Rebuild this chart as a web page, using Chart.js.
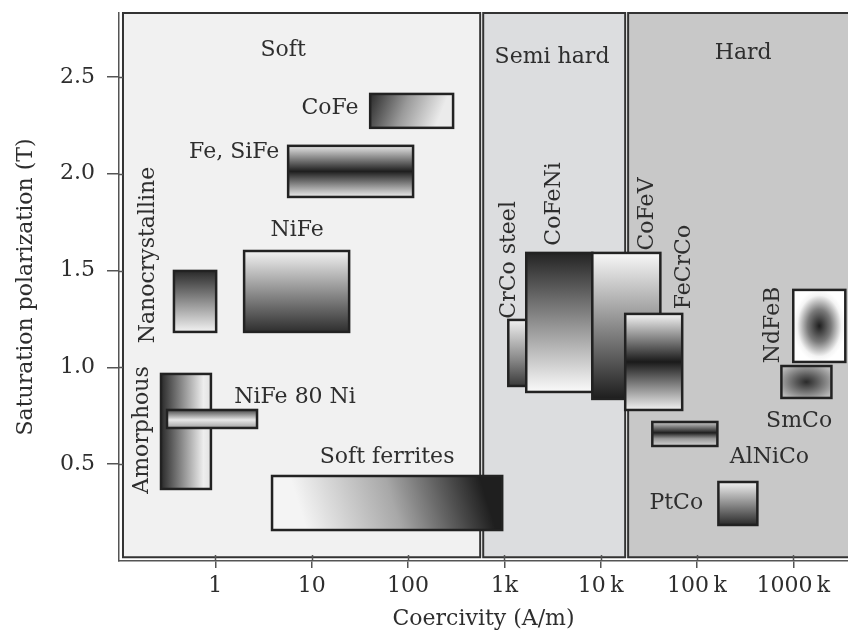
<!DOCTYPE html>
<html>
<head>
<meta charset="utf-8">
<script src="https://cdn.jsdelivr.net/npm/chart.js@4.4.1/dist/chart.umd.min.js"></script>
<style>
  html, body { margin: 0; padding: 0; background: #fff; overflow: hidden; }
  #wrap { width: 848px; height: 635px; position: relative; }
</style>
</head>
<body>
<div id="wrap"><canvas id="chart"></canvas></div>
<script>
/* ---- Data: coercivity (A/m) and saturation polarization (T) ranges ---- */
const materials = [
  "Amorphous", "NiFe 80 Ni", "Nanocrystalline", "NiFe", "Fe, SiFe", "CoFe",
  "Soft ferrites", "CrCo steel", "CoFeNi", "CoFeV", "FeCrCo", "AlNiCo",
  "PtCo", "NdFeB", "SmCo",
];
const hcLow  = [0.273, 0.315, 0.372, 1.99, 5.7, 40.5, 3.88, 1100, 1690, 8200, 18000, 34400, 167000, 1.0e6, 753000];
const hcHigh = [0.90, 2.71, 1.02, 24.5, 113, 294, 951, 1690, 8200, 41700, 70300, 163000, 424000, 3.47e6, 2.49e6];
const jsLow  = [0.372, 0.687, 1.183, 1.183, 1.88, 2.237, 0.16, 0.904, 0.873, 0.837, 0.78, 0.594, 0.186, 1.028, 0.842];
const jsHigh = [0.966, 0.78, 1.498, 1.601, 2.144, 2.412, 0.439, 1.245, 1.591, 1.591, 1.276, 0.718, 0.408, 1.40, 1.007];

const regionNames = ["Soft", "Semi hard", "Hard"];
const regionFrom  = [0.11, 604, 19300];
const regionTo    = [562, 17990, 3.7e6];

const xTickValues = [1, 10, 100, 1e3, 1e4, 1e5, 1e6];
const xTickLabels = ["1", "10", "100", "1k", "10\u2009k", "100\u2009k", "1000\u2009k"];
const yTickValues = [0.5, 1.0, 1.5, 2.0, 2.5];

/* ---- Styles ---- */
const FONT = "DejaVu Serif";
const TEXT = "#2e2e2e";
const X_MIN = 0.1, X_MAX = 3.7e6, Y_MIN = 0, Y_MAX = 2.83, REGION_BOTTOM = 0.02;
const regionFill = ["#f1f1f1", "#dcdddf", "#c8c8c8"];

// gradient specs, box-relative
const shades = {
  "Amorphous":      { lin: [0, 0, 1, 0], stops: [[0, "#2a2a2a"], [0.85, "#eeeeee"], [1, "#e2e2e2"]] },
  "NiFe 80 Ni":     { lin: [0, 0, 0, 1], stops: [[0, "#4a4a4a"], [0.55, "#e8e8e8"], [1, "#a0a0a0"]] },
  "Nanocrystalline":{ lin: [0, 0, 0, 1], stops: [[0, "#2a2a2a"], [1, "#f2f2f2"]] },
  "NiFe":           { lin: [0, 0, 0, 1], stops: [[0, "#f2f2f2"], [1, "#2e2e2e"]] },
  "Fe, SiFe":       { lin: [0, 0, 0, 1], stops: [[0, "#e6e6e6"], [0.5, "#1e1e1e"], [1, "#ececec"]] },
  "CoFe":           { lin: [0, 0.1, 0.8, 0.9], stops: [[0, "#2e2e2e"], [0.5, "#9a9a9a"], [1, "#ebebeb"]] },
  "Soft ferrites":  { lin: [0.15, 1, 0.9, 0], stops: [[0, "#f4f4f4"], [0.5, "#a8a8a8"], [1, "#1f1f1f"]] },
  "CrCo steel":     { lin: [0, 0, 0, 1], stops: [[0, "#f0f0f0"], [0.6, "#888"], [1, "#3a3a3a"]] },
  "CoFeNi":         { lin: [0, 0, 0, 1], stops: [[0, "#242424"], [1, "#fafafa"]] },
  "CoFeV":          { lin: [0, 0, 0, 1], stops: [[0, "#f8f8f8"], [1, "#1e1e1e"]] },
  "FeCrCo":         { lin: [0, 0, 0, 1], stops: [[0, "#f4f4f4"], [0.5, "#1a1a1a"], [1, "#f2f2f2"]] },
  "AlNiCo":         { lin: [0, 0, 0, 1], stops: [[0, "#cfcfcf"], [0.45, "#1e1e1e"], [0.7, "#999"], [1, "#d5d5d5"]] },
  "PtCo":           { lin: [0, 0, 0, 1], stops: [[0, "#f2f2f2"], [1, "#2a2a2a"]] },
  "NdFeB":          { rad: 1.0, stops: [[0, "#1e1e1e"], [0.45, "#7a7a7a"], [0.85, "#f4f4f4"], [1, "#ffffff"]] },
  "SmCo":           { rad: 1.2, stops: [[0, "#2a2a2a"], [0.35, "#5a5a5a"], [1, "#b8b8b8"]] },
};

// text annotations: [text, x value, y value, rotated]
const notes = [
  ["Soft", 5.05, 2.64, false],
  ["Semi hard", 3130, 2.60, false],
  ["Hard", 302000, 2.62, false],
  ["CoFe", 15.5, 2.34, false],
  ["Fe, SiFe", 1.57, 2.11, false],
  ["NiFe", 7.06, 1.71, false],
  ["Nanocrystalline", 0.2, 1.58, true],
  ["Amorphous", 0.174, 0.677, true],
  ["NiFe 80 Ni", 6.73, 0.847, false],
  ["Soft ferrites", 60.7, 0.537, false],
  ["CrCo steel", 1125, 1.555, true],
  ["CoFeNi", 3300, 1.844, true],
  ["CoFeV", 30500, 1.792, true],
  ["FeCrCo", 74000, 1.518, true],
  ["NdFeB", 621000, 1.219, true],
  ["SmCo", 1.15e6, 0.723, false],
  ["AlNiCo", 565000, 0.537, false],
  ["PtCo", 61000, 0.30, false],
];

function makeShade(ctx, spec, x0, y0, w, h) {
  const l = spec.lin;
  const g = ctx.createLinearGradient(x0 + l[0] * w, y0 + l[1] * h, x0 + l[2] * w, y0 + l[3] * h);
  spec.stops.forEach(([o, c]) => g.addColorStop(o, c));
  return g;
}

function fillRadial(ctx, spec, x0, y0, w, h) {
  ctx.save();
  ctx.beginPath();
  ctx.rect(x0, y0, w, h);
  ctx.clip();
  ctx.translate(x0 + w / 2, y0 + h / 2);
  ctx.scale(w / 2, h / 2);
  const g = ctx.createRadialGradient(0, 0, 0, 0, 0, spec.rad);
  spec.stops.forEach(([o, c]) => g.addColorStop(o, c));
  ctx.fillStyle = g;
  ctx.fillRect(-1, -1, 2, 2);
  ctx.restore();
}

/* ---- Plugin: regions, material boxes, labels ---- */
const boxPlugin = {
  id: "boxes",
  beforeDatasetsDraw(chart) {
    const { ctx, scales: { x, y } } = chart;
    ctx.save();
    ctx.strokeStyle = "#333";
    ctx.lineWidth = 2;

    regionNames.forEach((name, i) => {
      const x0 = x.getPixelForValue(regionFrom[i]);
      const x1 = x.getPixelForValue(regionTo[i]);
      const y0 = y.getPixelForValue(Y_MAX);
      const y1 = y.getPixelForValue(REGION_BOTTOM);
      ctx.fillStyle = regionFill[i];
      ctx.fillRect(x0, y0, x1 - x0, y1 - y0);
      ctx.beginPath();
      if (i === regionNames.length - 1) {
        ctx.moveTo(x1 + 2, y0);
        ctx.lineTo(x0, y0);
        ctx.lineTo(x0, y1);
        ctx.lineTo(x1 + 2, y1);
      } else {
        ctx.rect(x0, y0, x1 - x0, y1 - y0);
      }
      ctx.stroke();
    });

    ctx.lineWidth = 2.5;
    ctx.strokeStyle = "#222";
    materials.forEach((name, i) => {
      const x0 = x.getPixelForValue(hcLow[i]);
      const x1 = x.getPixelForValue(hcHigh[i]);
      const y0 = y.getPixelForValue(jsHigh[i]);
      const y1 = y.getPixelForValue(jsLow[i]);
      const spec = shades[name];
      if (spec.rad) {
        fillRadial(ctx, spec, x0, y0, x1 - x0, y1 - y0);
      } else {
        ctx.fillStyle = makeShade(ctx, spec, x0, y0, x1 - x0, y1 - y0);
        ctx.fillRect(x0, y0, x1 - x0, y1 - y0);
      }
      ctx.strokeRect(x0, y0, x1 - x0, y1 - y0);
    });

    ctx.fillStyle = TEXT;
    ctx.font = "22px '" + FONT + "'";
    ctx.textAlign = "center";
    ctx.textBaseline = "middle";
    notes.forEach(([text, vx, vy, rot]) => {
      const px = x.getPixelForValue(vx);
      const py = y.getPixelForValue(vy);
      ctx.save();
      ctx.translate(px, py);
      if (rot) ctx.rotate(-Math.PI / 2);
      ctx.fillText(text, 0, 0);
      ctx.restore();
    });
    ctx.restore();
  },
  afterDraw(chart) {
    // short inner part of the tick marks
    const { ctx, chartArea, scales: { x, y } } = chart;
    ctx.save();
    ctx.strokeStyle = "#555";
    ctx.lineWidth = 1.5;
    ctx.beginPath();
    xTickValues.forEach((v) => {
      const px = Math.round(x.getPixelForValue(v)) + 0.5;
      ctx.moveTo(px, chartArea.bottom);
      ctx.lineTo(px, chartArea.bottom - 6);
    });
    yTickValues.forEach((v) => {
      const py = Math.round(y.getPixelForValue(v)) + 0.5;
      ctx.moveTo(chartArea.left, py);
      ctx.lineTo(chartArea.left + 4, py);
    });
    ctx.stroke();
    ctx.restore();
  },
};

const tickFont = { family: FONT, size: 22 };

new Chart(document.getElementById("chart"), {
  type: "scatter",
  data: { datasets: [{ data: [], pointRadius: 0 }] },
  options: {
    responsive: true,
    maintainAspectRatio: false,
    animation: false,
    events: [],
    layout: { padding: 0 },
    plugins: { legend: { display: false }, tooltip: { enabled: false } },
    scales: {
      x: {
        type: "logarithmic",
        min: X_MIN,
        max: X_MAX,
        afterBuildTicks: (s) => { s.ticks = xTickValues.map((v) => ({ value: v })); },
        afterFit: (s) => { s.height = 74; s.paddingLeft = 0; s.paddingRight = 0; },
        ticks: {
          callback: (v, i) => xTickLabels[i],
          font: tickFont, color: TEXT, padding: 5,
          maxRotation: 0, autoSkip: false,
        },
        grid: { drawOnChartArea: false, tickLength: 7, color: "#555", lineWidth: 1.5 },
        border: { color: "#555", width: 1.5 },
        title: {
          display: true, text: "Coercivity (A/m)",
          font: tickFont, color: TEXT, padding: { top: 0, bottom: 3 },
        },
      },
      y: {
        type: "linear",
        min: Y_MIN,
        max: Y_MAX,
        afterBuildTicks: (s) => { s.ticks = yTickValues.map((v) => ({ value: v })); },
        afterFit: (s) => { s.width = 119; s.paddingTop = 13; s.paddingBottom = 0; },
        ticks: {
          callback: (v) => v.toFixed(1),
          font: tickFont, color: TEXT, padding: 12,
        },
        grid: { drawOnChartArea: false, tickLength: 12, color: "#555", lineWidth: 1.5 },
        border: { color: "#555", width: 1.5 },
        title: {
          display: true, text: "Saturation polarization (T)",
          font: tickFont, color: TEXT, padding: { top: 13, bottom: 0 },
        },
      },
    },
  },
  plugins: [boxPlugin],
});
</script>
</body>
</html>
